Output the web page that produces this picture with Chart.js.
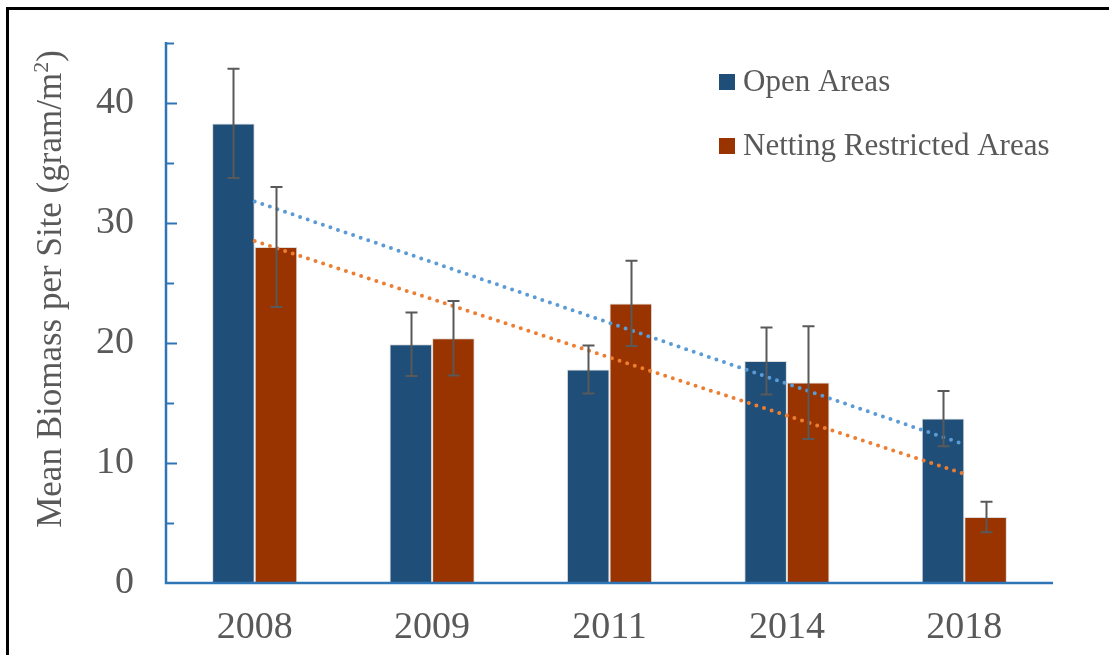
<!DOCTYPE html>
<html>
<head>
<meta charset="utf-8">
<title>Mean Biomass per Site</title>
<script src="https://cdn.jsdelivr.net/npm/chart.js@4.4.1/dist/chart.umd.min.js"></script>
<style>
    html, body { margin: 0; padding: 0; background: #fff; }
    canvas { display: block; }
</style>
</head>
<body>
<canvas id="biomassChart" width="1109" height="655"></canvas>
<script>

// DATA

const years = ["2008", "2009", "2011", "2014", "2018"];

const openAreas = [38.3, 19.9, 17.8, 18.5, 13.7];
const openErr = [4.55, 2.65, 2.0, 2.8, 2.3];

const nettingAreas = [28.0, 20.4, 23.3, 16.7, 5.5];
const nettingErr = [5.0, 3.1, 3.55, 4.7, 1.27];

// linear trend end points (2008 and 2018)
const openTrend = [31.8, null, null, null, 11.55];
const nettingTrend = [28.5, null, null, null, 9.1];

const yTitle = "Mean Biomass per Site (gram/m";

const FONT = '"Liberation Serif", "Times New Roman", serif';
const AXIS_BLUE = "#2E75B6";
const TEXT_GREY = "#595959";


// PLUGINS

// outer frame, axis lines and inward tick marks
const framePlugin = {
    id: "frame",
    afterDraw(chart) {
        const ctx = chart.ctx;
        const { left, right, top, bottom } = chart.chartArea;
        const y = chart.scales.y;

        ctx.save();
        ctx.fillStyle = "#000";
        ctx.fillRect(6, 7, 1103, 3);
        ctx.fillRect(6, 7, 3, 648);

        ctx.strokeStyle = AXIS_BLUE;
        ctx.lineWidth = 2.5;
        ctx.beginPath();
        ctx.moveTo(left, top - 1);
        ctx.lineTo(left, bottom);
        ctx.lineTo(right, bottom);
        ctx.stroke();

        ctx.lineWidth = 2;
        y.ticks.forEach(t => {
            if (t.value === 0) return;
            const py = Math.round(y.getPixelForValue(t.value)) + 0.5;
            const len = t.value % 10 === 0 ? 11 : 8;
            ctx.beginPath();
            ctx.moveTo(left, py);
            ctx.lineTo(left + len, py);
            ctx.stroke();
        });
        ctx.restore();
    }
};

// error bars on top of each bar
const errorBarPlugin = {
    id: "errorBars",
    afterDatasetsDraw(chart) {
        const ctx = chart.ctx;
        const y = chart.scales.y;
        const errs = [openErr, nettingErr];

        ctx.save();
        ctx.strokeStyle = TEXT_GREY;
        ctx.lineWidth = 2;

        [0, 1].forEach(di => {
            const meta = chart.getDatasetMeta(di);
            const values = chart.data.datasets[di].data;
            meta.data.forEach((bar, i) => {
                const x = Math.round(bar.x) + 0.5;
                const hi = y.getPixelForValue(values[i] + errs[di][i]);
                const lo = y.getPixelForValue(values[i] - errs[di][i]);
                ctx.beginPath();
                ctx.moveTo(x, hi);
                ctx.lineTo(x, lo);
                ctx.moveTo(x - 6, hi);
                ctx.lineTo(x + 6, hi);
                ctx.moveTo(x - 6, lo);
                ctx.lineTo(x + 6, lo);
                ctx.stroke();
            });
        });
        ctx.restore();
    }
};

// legend box (top right) and rotated y axis title with superscript
const labelsPlugin = {
    id: "labels",
    afterDraw(chart) {
        const ctx = chart.ctx;
        ctx.save();

        ctx.font = "31px " + FONT;
        ctx.textBaseline = "middle";
        ctx.fillStyle = TEXT_GREY;
        [0, 1].forEach(i => {
            const ds = chart.data.datasets[i];
            const cy = 82 + i * 64;
            ctx.fillStyle = ds.backgroundColor;
            ctx.fillRect(719, cy - 8, 16, 16);
            ctx.fillStyle = TEXT_GREY;
            ctx.fillText(ds.label, 743, cy + 1);
        });

        // y title
        const mainFont = "35px " + FONT;
        const supFont = "22px " + FONT;
        ctx.font = mainFont;
        const w1 = ctx.measureText(yTitle).width;
        const w3 = ctx.measureText(")").width;
        ctx.font = supFont;
        const w2 = ctx.measureText("2").width;
        const total = w1 + w2 + w3;

        ctx.translate(50, 289);
        ctx.rotate(-Math.PI / 2);
        ctx.textBaseline = "alphabetic";
        ctx.textAlign = "left";
        const base = 11;
        let x = -total / 2;
        ctx.font = mainFont;
        ctx.fillText(yTitle, x, base);
        x += w1;
        ctx.font = supFont;
        ctx.fillText("2", x, base - 13);
        x += w2;
        ctx.font = mainFont;
        ctx.fillText(")", x, base);

        ctx.restore();
    }
};


// CHART

Chart.defaults.font.family = FONT;

const ctx = document.getElementById("biomassChart").getContext("2d");

new Chart(ctx, {

    data: {
        labels: years,
        datasets: [
            {
                type: "bar",
                label: "Open Areas",
                data: openAreas,
                backgroundColor: "#1F4E79",
                borderColor: "rgba(210,210,210,0.8)",
                borderWidth: 1,
                categoryPercentage: 0.48,
                barPercentage: 1.0,
                order: 2
            },
            {
                type: "bar",
                label: "Netting Restricted Areas",
                data: nettingAreas,
                backgroundColor: "#993300",
                borderColor: "rgba(210,210,210,0.8)",
                borderWidth: 1,
                categoryPercentage: 0.48,
                barPercentage: 1.0,
                order: 2
            },
            {
                type: "line",
                label: "Open trend",
                data: openTrend,
                spanGaps: true,
                borderColor: "#5B9BD5",
                borderWidth: 4,
                borderDash: [0, 8],
                borderCapStyle: "round",
                pointRadius: 0,
                fill: false,
                order: 1
            },
            {
                type: "line",
                label: "Netting trend",
                data: nettingTrend,
                spanGaps: true,
                borderColor: "#ED7D31",
                borderWidth: 4,
                borderDash: [0, 8],
                borderCapStyle: "round",
                pointRadius: 0,
                fill: false,
                order: 1
            }
        ]
    },

    options: {
        responsive: false,
        animation: false,
        devicePixelRatio: 1,
        layout: { padding: { top: 43, right: 56, bottom: 0, left: 0 } },
        plugins: {
            legend: { display: false },
            tooltip: { enabled: false }
        },
        scales: {
            x: {
                grid: { display: false },
                border: { display: false },
                ticks: {
                    color: TEXT_GREY,
                    font: { size: 38 },
                    padding: 14
                },
                afterFit: scale => {
                    scale.height = 72;
                    scale.paddingLeft = 0;
                    scale.paddingRight = 0;
                }
            },
            y: {
                min: 0,
                max: 45,
                grid: { display: false },
                border: { display: false },
                ticks: {
                    stepSize: 5,
                    color: TEXT_GREY,
                    font: { size: 38 },
                    padding: 24,
                    callback: v => (v % 10 === 0 ? v : "")
                },
                afterFit: scale => {
                    scale.width = 166;
                    scale.paddingTop = 0;
                    scale.paddingBottom = 0;
                }
            }
        }
    },

    plugins: [framePlugin, errorBarPlugin, labelsPlugin]

});

</script>
</body>
</html>
